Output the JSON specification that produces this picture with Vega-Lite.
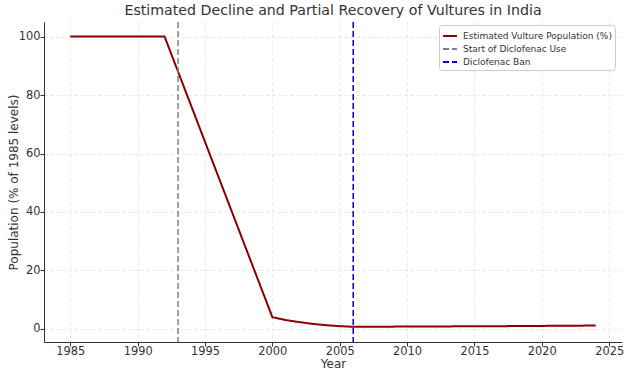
{
  "$schema": "https://vega.github.io/schema/vega-lite/v6.json",
  "width": 578,
  "height": 320,
  "autosize": {"type": "none"},
  "padding": {"left": 44, "top": 22, "right": 8, "bottom": 34},
  "background": "white",
  "config": {
    "font": "DejaVu Sans",
    "view": {"stroke": null},
    "axis": {
      "labelFont": "DejaVu Sans",
      "titleFont": "DejaVu Sans",
      "labelFontSize": 11.4,
      "titleFontSize": 12,
      "labelColor": "#333",
      "titleColor": "#333",
      "titleFontWeight": "normal",
      "domainColor": "#333",
      "domainWidth": 1,
      "tickColor": "#333",
      "tickSize": 4,
      "gridColor": "#dddddd",
      "gridDash": [3, 3],
      "gridWidth": 0.8
    },
    "legend": {
      "symbolType": "stroke",
      "symbolSize": 196,
      "symbolStrokeWidth": 2,
      "labelFontSize": 9,
      "labelLimit": 400,
      "labelOffset": 5,
      "labelColor": "#333",
      "labelFont": "DejaVu Sans",
      "fillColor": "white",
      "strokeColor": "#cccccc",
      "cornerRadius": 3,
      "padding": 3,
      "rowPadding": 0
    }
  },
  "title": {
    "text": "Estimated Decline and Partial Recovery of Vultures in India",
    "fontSize": 14.2,
    "fontWeight": "normal",
    "color": "#333",
    "font": "DejaVu Sans",
    "offset": 3
  },
  "datasets": {
    "pop": [
      {"year": 1985, "value": 100, "series": "Estimated Vulture Population (%)"},
      {"year": 1986, "value": 100, "series": "Estimated Vulture Population (%)"},
      {"year": 1987, "value": 100, "series": "Estimated Vulture Population (%)"},
      {"year": 1988, "value": 100, "series": "Estimated Vulture Population (%)"},
      {"year": 1989, "value": 100, "series": "Estimated Vulture Population (%)"},
      {"year": 1990, "value": 100, "series": "Estimated Vulture Population (%)"},
      {"year": 1991, "value": 100, "series": "Estimated Vulture Population (%)"},
      {"year": 1992, "value": 100, "series": "Estimated Vulture Population (%)"},
      {"year": 1993, "value": 88, "series": "Estimated Vulture Population (%)"},
      {"year": 1994, "value": 76, "series": "Estimated Vulture Population (%)"},
      {"year": 1995, "value": 64, "series": "Estimated Vulture Population (%)"},
      {"year": 1996, "value": 52, "series": "Estimated Vulture Population (%)"},
      {"year": 1997, "value": 40, "series": "Estimated Vulture Population (%)"},
      {"year": 1998, "value": 28, "series": "Estimated Vulture Population (%)"},
      {"year": 1999, "value": 16, "series": "Estimated Vulture Population (%)"},
      {"year": 2000, "value": 4, "series": "Estimated Vulture Population (%)"},
      {"year": 2001, "value": 3.0, "series": "Estimated Vulture Population (%)"},
      {"year": 2002, "value": 2.3, "series": "Estimated Vulture Population (%)"},
      {"year": 2003, "value": 1.7, "series": "Estimated Vulture Population (%)"},
      {"year": 2004, "value": 1.25, "series": "Estimated Vulture Population (%)"},
      {"year": 2005, "value": 0.92, "series": "Estimated Vulture Population (%)"},
      {"year": 2006, "value": 0.7, "series": "Estimated Vulture Population (%)"},
      {"year": 2007, "value": 0.72, "series": "Estimated Vulture Population (%)"},
      {"year": 2008, "value": 0.74, "series": "Estimated Vulture Population (%)"},
      {"year": 2009, "value": 0.76, "series": "Estimated Vulture Population (%)"},
      {"year": 2010, "value": 0.78, "series": "Estimated Vulture Population (%)"},
      {"year": 2011, "value": 0.8, "series": "Estimated Vulture Population (%)"},
      {"year": 2012, "value": 0.82, "series": "Estimated Vulture Population (%)"},
      {"year": 2013, "value": 0.84, "series": "Estimated Vulture Population (%)"},
      {"year": 2014, "value": 0.86, "series": "Estimated Vulture Population (%)"},
      {"year": 2015, "value": 0.88, "series": "Estimated Vulture Population (%)"},
      {"year": 2016, "value": 0.9, "series": "Estimated Vulture Population (%)"},
      {"year": 2017, "value": 0.92, "series": "Estimated Vulture Population (%)"},
      {"year": 2018, "value": 0.95, "series": "Estimated Vulture Population (%)"},
      {"year": 2019, "value": 0.98, "series": "Estimated Vulture Population (%)"},
      {"year": 2020, "value": 1.01, "series": "Estimated Vulture Population (%)"},
      {"year": 2021, "value": 1.04, "series": "Estimated Vulture Population (%)"},
      {"year": 2022, "value": 1.07, "series": "Estimated Vulture Population (%)"},
      {"year": 2023, "value": 1.1, "series": "Estimated Vulture Population (%)"},
      {"year": 2024, "value": 1.13, "series": "Estimated Vulture Population (%)"}
    ],
    "events": [
      {"year": 1993, "series": "Start of Diclofenac Use"},
      {"year": 2006, "series": "Diclofenac Ban"}
    ]
  },
  "layer": [
    {
      "data": {"name": "pop"},
      "mark": {"type": "line", "strokeWidth": 2, "clip": true},
      "encoding": {
        "x": {
          "field": "year", "type": "quantitative",
          "scale": {"domain": [1983.05, 2025.95], "nice": false, "zero": false},
          "axis": {"title": "Year", "values": [1985, 1990, 1995, 2000, 2005, 2010, 2015, 2020, 2025], "format": "d", "labelPadding": -1, "titlePadding": 2}
        },
        "y": {
          "field": "value", "type": "quantitative",
          "scale": {"domain": [-4.5, 105], "nice": false, "zero": false},
          "axis": {"title": "Population (% of 1985 levels)", "values": [0, 20, 40, 60, 80, 100], "labelPadding": 0, "titlePadding": -2}
        },
        "color": {
          "field": "series", "type": "nominal",
          "scale": {
            "domain": ["Estimated Vulture Population (%)", "Start of Diclofenac Use", "Diclofenac Ban"],
            "range": ["#8B0000", "#808080", "#0000CC"]
          },
          "legend": {"title": null, "orient": "none", "legendX": 395, "legendY": 3}
        },
        "strokeDash": {
          "field": "series", "type": "nominal",
          "scale": {
            "domain": ["Estimated Vulture Population (%)", "Start of Diclofenac Use", "Diclofenac Ban"],
            "range": [[1, 0], [6, 3], [6, 3]]
          },
          "legend": {"title": null, "orient": "none", "legendX": 395, "legendY": 3}
        }
      }
    },
    {
      "data": {"name": "events"},
      "mark": {"type": "rule", "strokeWidth": 1.5},
      "encoding": {
        "x": {"field": "year", "type": "quantitative"},
        "color": {"field": "series", "type": "nominal"},
        "strokeDash": {"field": "series", "type": "nominal"}
      }
    }
  ]
}
